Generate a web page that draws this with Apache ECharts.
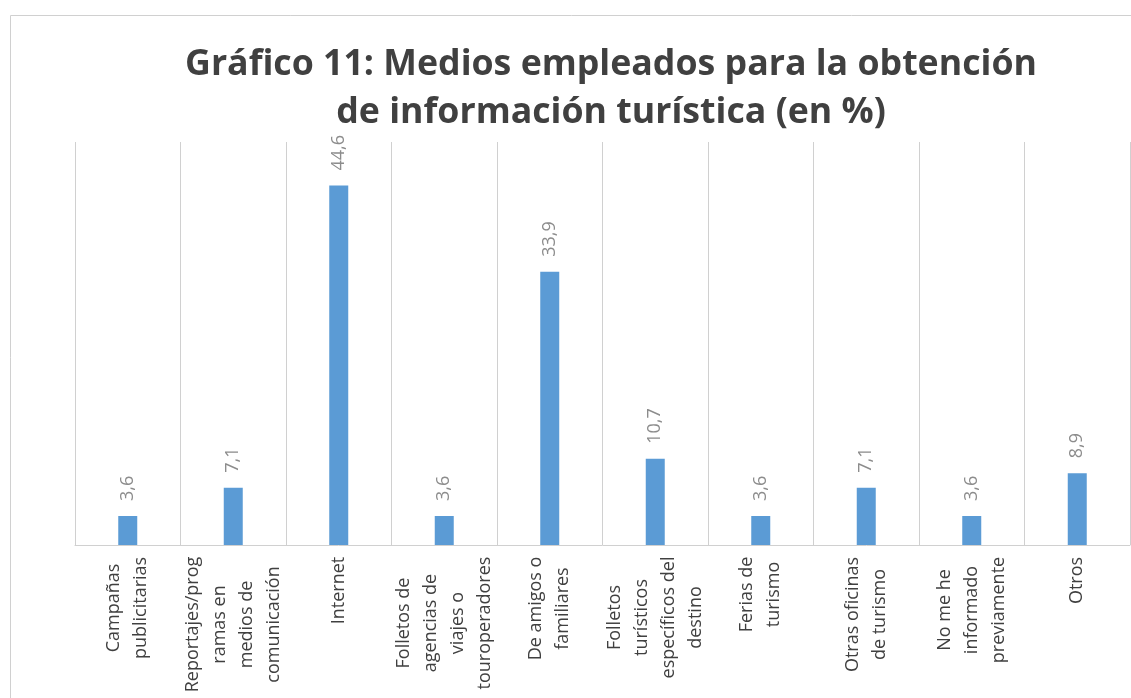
<!DOCTYPE html>
<html>
<head>
<meta charset="UTF-8">
<title>index.html</title>
<style type="text/css">
body { margin: 0; background: #fff; }
#main { width: 1131px; height: 698px; }
</style>
</head>
<body>
  <div id="main"></div>
<script type="text/javascript" src="https://cdn.jsdelivr.net/npm/echarts@6/dist/echarts.min.js"></script>
<script>
  var categories = [
    'Campañas\npublicitarias',
    'Reportajes/prog\nramas en\nmedios de\ncomunicación',
    'Internet',
    'Folletos de\nagencias de\nviajes o\ntouroperadores',
    'De amigos o\nfamiliares',
    'Folletos\nturísticos\nespecíficos del\ndestino',
    'Ferias de\nturismo',
    'Otras oficinas\nde turismo',
    'No me he\ninformado\npreviamente',
    'Otros'
  ];
  var values = [3.6, 7.1, 44.6, 3.6, 33.9, 10.7, 3.6, 7.1, 3.6, 8.9];

  var labelFont = 'Open Sans';
  var labelSize = 18;

  // las líneas de cada etiqueta van centradas entre sí, como en Excel
  var ctx = document.createElement('canvas').getContext('2d');
  ctx.font = labelSize + 'px "' + labelFont + '"';
  var rich = {};
  categories.forEach(function(c, i) {
    var w = 0;
    c.split('\n').forEach(function(l) {
      w = Math.max(w, ctx.measureText(l).width);
    });
    rich['c' + i] = {
      width : Math.ceil(w) + 1,
      align : 'center',
      fontFamily : labelFont,
      fontSize : labelSize,
      lineHeight : 27,
      color : '#404040'
    };
  });

  var myChart = echarts.init(document.getElementById('main'));
  var option = {
    animation : false,
    title : {
      text : 'Gráfico 11: Medios empleados para la obtención\nde información turística (en %)',
      left : 606,
      top : 36,
      textAlign : 'center',
      textStyle : {
        fontFamily : 'Open Sans',
        fontWeight : 'bold',
        fontSize : 35.7,
        lineHeight : 48,
        color : '#404040'
      }
    },
    // marco del gráfico
    graphic : [ {
      type : 'rect',
      left : 8,
      top : 13,
      shape : { width : 1200, height : 800 },
      style : { fill : 'none', stroke : '#d0d0d0', lineWidth : 1 }
    } ],
    grid : {
      left : 75,
      right : 1,
      top : 142,
      bottom : 153,
      outerBoundsMode : 'none'
    },
    xAxis : [ {
      type : 'category',
      data : categories,
      axisLine : { lineStyle : { color : '#d0d0d0' } },
      axisTick : { show : false },
      splitLine : { show : true, lineStyle : { color : '#d0d0d0' } },
      axisLabel : {
        interval : 0,
        rotate : 90,
        margin : 11,
        fontFamily : labelFont,
        fontSize : labelSize,
        lineHeight : 27,
        color : '#404040',
        rich : rich,
        formatter : function(value, idx) {
          return value.split('\n').map(function(l) {
            return '{c' + idx + '|' + l + '}';
          }).join('\n');
        }
      }
    } ],
    yAxis : [ {
      type : 'value',
      min : 0,
      max : 50,
      show : false,
      splitLine : { show : false }
    } ],
    series : [ {
      name : '%',
      type : 'bar',
      data : values,
      barWidth : 19,
      itemStyle : { color : '#5b9bd5' },
      label : {
        show : true,
        position : 'top',
        rotate : 90,
        align : 'left',
        verticalAlign : 'middle',
        distance : 15,
        fontFamily : 'Open Sans',
        fontSize : 18,
        color : '#8c8c8c',
        formatter : function(p) {
          return p.value.toFixed(1).replace('.', ',');
        }
      }
    } ]
  };
  myChart.setOption(option);
</script>
</body>
</html>
